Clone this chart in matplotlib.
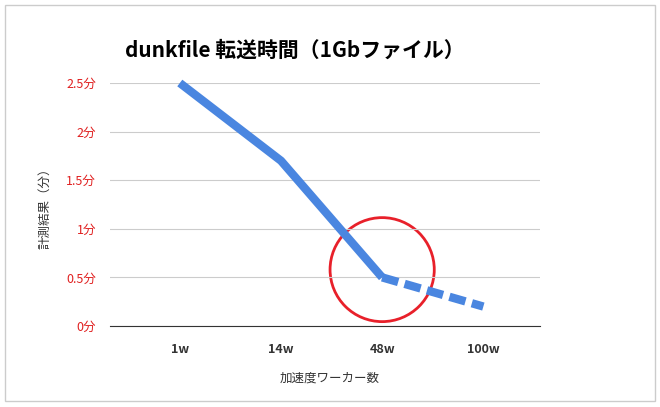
import matplotlib.pyplot as plt
from matplotlib.patches import Ellipse, Rectangle

plt.rcParams['font.family'] = ['Noto Sans CJK JP', 'DejaVu Sans']

workers = ['1w', '14w', '48w', '100w']
minutes_solid = [2.5, 1.7, 0.5]
minutes_dashed = [0.5, 0.2]
yticks = [0, 0.5, 1, 1.5, 2, 2.5]

fig = plt.figure(figsize=(6.6, 4.07), dpi=100)
fig.patches.append(Rectangle((0.008, 0.015), 0.984, 0.972, transform=fig.transFigure,
                             fill=False, edgecolor='#cccccc', linewidth=1))
ax = fig.add_axes([110 / 660, 1 - 326 / 407, 430 / 660, 243 / 407])

x = list(range(len(workers)))
blue = '#4a86e0'
ax.plot(x[:3], minutes_solid, color=blue, linewidth=6, solid_capstyle='butt', clip_on=False)
ax.plot(x[2:], minutes_dashed, color=blue, linewidth=6, linestyle=(0, (2.0, 0.8)), clip_on=False)

ax.add_patch(Ellipse((2.0, 0.58), 1.03, 1.07, fill=False, edgecolor='#e8202a', linewidth=2, clip_on=False))

ax.set_xlim(-0.69, 3.56)
ax.set_ylim(0, 2.5)
ax.set_yticks(yticks)
ax.set_yticklabels([f'{v:g}分' for v in yticks], color='#e02020', fontsize=9)
ax.set_xticks(x)
ax.set_xticklabels(workers, fontsize=9, fontweight='bold', color='#333333')
ax.tick_params(length=0, pad=10)
ax.tick_params(axis='x', pad=12)
ax.grid(axis='y', color='#cccccc', linewidth=0.8)
for s in ['top', 'right', 'left']:
    ax.spines[s].set_visible(False)
ax.spines['bottom'].set_color('#333333')

fig.text(125 / 660, 1 - 50 / 407, 'dunkfile 転送時間（1Gbファイル）', fontsize=15,
         fontweight='bold', va='center', ha='left')
fig.text(45 / 660, 1 - 205 / 407, '計測結果（分）', rotation=90, fontsize=9,
         style='italic', va='center', ha='center', color='#333333')
fig.text(330 / 660, 1 - 378 / 407, '加速度ワーカー数', fontsize=9,
         style='italic', va='center', ha='center', color='#333333')

fig.savefig('out.png', dpi=100)
